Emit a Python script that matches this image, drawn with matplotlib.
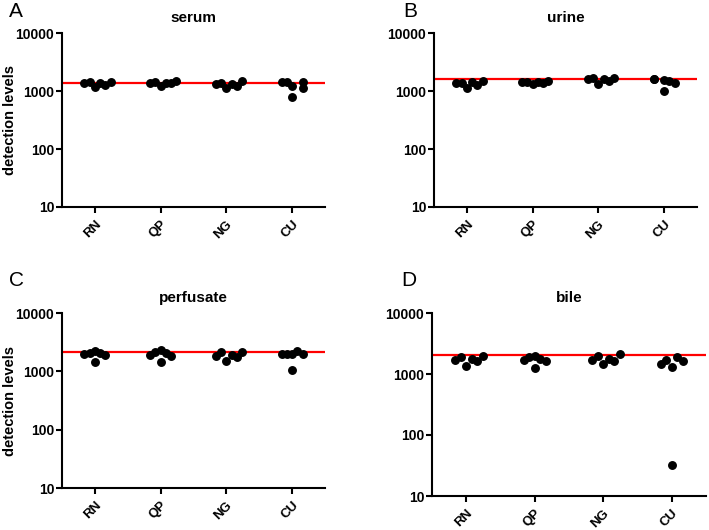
import matplotlib
matplotlib.use("Agg")
import matplotlib.pyplot as plt

plt.rcParams['font.family'] = ['Liberation Sans', 'DejaVu Sans']

groups = ['RN', 'QP', 'NG', 'CU']
panel_titles = ['serum', 'urine', 'perfusate', 'bile']
panel_letters = ['A', 'B', 'C', 'D']
y_ticks = [10, 100, 1000, 10000]

# detection levels, one list per group
serum = [[1390, 1445, 1186, 1390, 1254, 1445],
         [1358, 1445, 1219, 1358, 1358, 1486],
         [1321, 1358, 1113, 1321, 1219, 1486],
         [1445, 1445, 1219, 798, 1445, 1140]]
urine = [[1390, 1390, 1140, 1445, 1269, 1486],
         [1445, 1445, 1321, 1445, 1358, 1486],
         [1610, 1655, 1321, 1610, 1506, 1655],
         [1610, 1580, 1560, 1012, 1506, 1358]]
perfusate = [[1995, 2075, 2275, 1430, 2075, 1941],
             [1941, 2128, 2300, 1430, 2075, 1865],
             [1815, 2128, 1487, 1888, 1743, 2128],
             [1995, 1995, 1995, 1070, 2275, 1995]]
bile = [[1718, 1875, 1370, 1766, 1656, 1945],
        [1718, 1875, 2000, 1255, 1766, 1611],
        [1718, 1945, 1477, 1766, 1611, 2133],
        [1460, 1718, 1303, 1875, 1611, 32]]

# red reference line per panel
ref_levels = [1373, 1592, 2128, 2076]

# column-scatter slot of each dot inside its group
slots_even = [-2, -1, 0, 1, 2, 3]
slots_stack = [-2, -1, 0, 0, 1, 2]
serum_slots = [slots_even, slots_even, slots_even, [-2, -1, 0, 0, 2, 2]]
urine_slots = [slots_even, slots_even, slots_even, [-2, -2, 0, 0, 1, 2]]
perfusate_slots = [slots_stack, slots_stack, slots_even, slots_stack]
bile_slots = [slots_even, slots_stack, slots_even, [-2, -1, 0, 1, 2, 0]]

panel_data = [serum, urine, perfusate, bile]
panel_slots = [serum_slots, urine_slots, perfusate_slots, bile_slots]

# axes boxes in pixels: left, top, right, bottom
boxes = [(62, 33, 325, 207), (434, 33, 697, 207),
         (62, 313, 325, 488), (432, 313, 706, 496)]
letter_pos = [(9, 2), (403, 2), (9, 271), (401, 271)]

W, H = 709, 530
fig = plt.figure(figsize=(W / 100, H / 100), dpi=100)

step = 0.08
for i in range(4):
    l, t, r, b = boxes[i]
    ax = fig.add_axes([l / W, 1 - b / H, (r - l) / W, (b - t) / H])
    for g in range(len(groups)):
        vals = panel_data[i][g]
        xs = [g + s * step for s in panel_slots[i][g]]
        ax.plot(xs, vals, 'o', color='black', markersize=5.4, zorder=3)
    ax.axhline(ref_levels[i], color='#ff0000', lw=1.6, zorder=2)

    ax.set_yscale('log')
    ax.set_ylim(10, 10000)
    ax.set_xlim(-0.5, 3.5)
    ax.set_yticks(y_ticks)
    ax.set_yticklabels([str(v) for v in y_ticks])
    ax.minorticks_off()
    ax.set_xticks(range(len(groups)))
    ax.set_xticklabels(groups, rotation=45, ha='right', va='top',
                       rotation_mode='anchor')

    for side in ['top', 'right']:
        ax.spines[side].set_visible(False)
    for side in ['left', 'bottom']:
        ax.spines[side].set_linewidth(1.5)
    ax.tick_params(width=1.5, length=4, labelsize=10, pad=1.5)
    ax.tick_params(axis='x', pad=4, labelsize=9.5)
    for lab in ax.get_xticklabels() + ax.get_yticklabels():
        lab.set_fontweight('bold')

    if i % 2 == 0:
        ax.set_ylabel('detection levels', fontsize=10.5, fontweight='bold')
        ax.yaxis.set_label_coords((17 - l) / (r - l), 0.5)
    ax.set_title(panel_titles[i], fontsize=11, fontweight='bold', pad=8)

    lx, ly = letter_pos[i]
    fig.text(lx / W, 1 - ly / H, panel_letters[i], fontsize=15,
             ha='left', va='top')

fig.savefig('out.png', dpi=100)
